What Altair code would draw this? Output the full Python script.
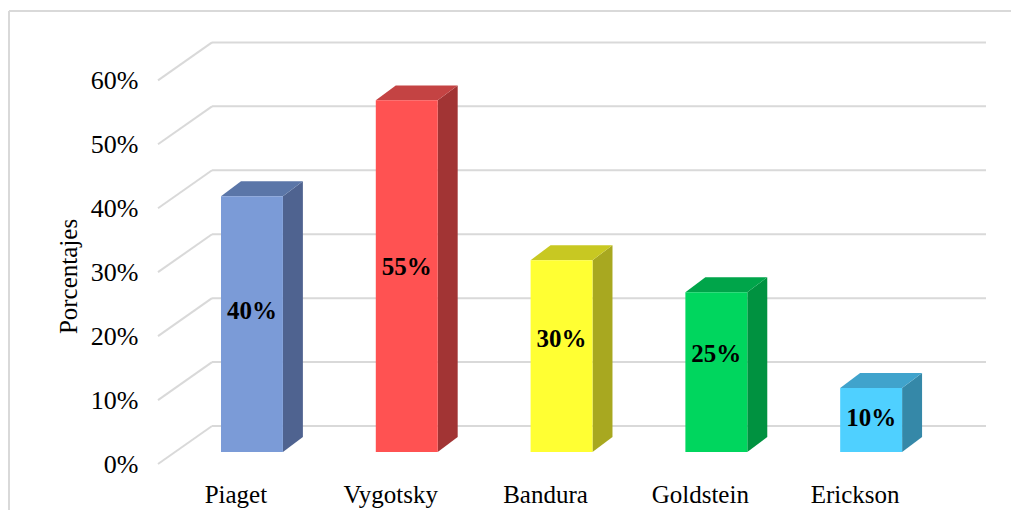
import json
import altair as alt
import pandas as pd

# ---- data ----
names = ["Piaget", "Vygotsky", "Bandura", "Goldstein", "Erickson"]
values = [40, 55, 30, 25, 10]
front_colors = ["#7B9BD7", "#FF5252", "#FFFF33", "#00D65E", "#4FD0FF"]
top_colors = ["#5B76A8", "#C44343", "#C8C822", "#00A54A", "#40A3CC"]
side_colors = ["#4F6390", "#A23434", "#A8A820", "#009240", "#3588A8"]
ticks = [0, 10, 20, 30, 40, 50, 60]

# ---- 3D geometry (style, in axis units) ----
BAR_OFF, BAR_W = 0.407, 0.400      # front face left offset / width within a category
DEPTH_X, DEPTH_Y = 0.129, 2.34     # bar depth projection
BASE = 1.875                       # bar floor height (perspective)
WALL_X, WALL_Y = 0.349, 5.94       # back wall projection
X_MAX, Y_MAX = 5.349, 66
W, H = 828, 422
FONT = "Liberation Serif"

xs = alt.Scale(domain=[0, X_MAX], nice=False, zero=False)
ys = alt.Scale(domain=[0, Y_MAX], nice=False, zero=False)

# gridlines (slanted floor-to-wall part + horizontal wall part)
grid_rows = []
for t in ticks:
    grid_rows.append({"x": 0, "x2": WALL_X, "y": t, "y2": t + WALL_Y})
    grid_rows.append({"x": WALL_X, "x2": X_MAX, "y": t + WALL_Y, "y2": t + WALL_Y})
grid_df = pd.DataFrame(grid_rows)

front_rows, top_rows, side_rows, label_rows = [], [], [], []
for i, (n, v) in enumerate(zip(names, values)):
    xl = i + BAR_OFF
    xr = xl + BAR_W
    front_rows.append({"name": n, "x": xl, "x2": xr, "y": BASE, "y2": v + BASE, "c": front_colors[i]})
    top_rows.append({"name": n, "y": v + BASE, "x": xl, "x2": xr, "c": top_colors[i]})
    top_rows.append({"name": n, "y": v + BASE + DEPTH_Y, "x": xl + DEPTH_X, "x2": xr + DEPTH_X, "c": top_colors[i]})
    side_rows.append({"name": n, "x": xr, "y": BASE, "y2": v + BASE, "c": side_colors[i]})
    side_rows.append({"name": n, "x": xr + DEPTH_X, "y": BASE + DEPTH_Y, "y2": v + BASE + DEPTH_Y, "c": side_colors[i]})
    label_rows.append({"name": n, "x": xl + BAR_W / 2,
                       "y": min(0.45 * v + 6.0, v + BASE - 4.7), "t": f"{v}%"})

front_df = pd.DataFrame(front_rows)
top_df = pd.DataFrame(top_rows)
side_df = pd.DataFrame(side_rows)
label_df = pd.DataFrame(label_rows)

label_expr = json.dumps(names) + "[floor(datum.value)]"

x_axis = alt.Axis(
    values=[i + 0.5 for i in range(len(names))], labelExpr=label_expr,
    domain=False, ticks=False, grid=False, title=None, labelAngle=0,
    labelFont=FONT, labelFontSize=25, labelColor="#000000",
    labelPadding=38, labelBaseline="alphabetic", labelFlush=False)
y_axis = alt.Axis(
    values=ticks, labelExpr="datum.value + '%'",
    domain=False, ticks=False, grid=False,
    labelFont=FONT, labelFontSize=26, labelColor="#000000",
    labelPadding=20, labelBaseline="middle", labelFlush=False,
    title="Porcentajes", titleFont=FONT, titleFontSize=25,
    titleFontWeight="normal", titleColor="#000000",
    titleAngle=270, titleAlign="center", titleBaseline="middle",
    titleX=-90, titleY=234)

grid = alt.Chart(grid_df).mark_rule(color="#D9D9D9", strokeWidth=2).encode(
    x=alt.X("x:Q", scale=xs, axis=x_axis),
    x2="x2:Q",
    y=alt.Y("y:Q", scale=ys, axis=y_axis),
    y2="y2:Q",
)

side = alt.Chart(side_df).mark_area(orient="vertical").encode(
    x=alt.X("x:Q", scale=xs, axis=x_axis),
    y=alt.Y("y:Q", scale=ys, axis=y_axis),
    y2="y2:Q",
    color=alt.Color("c:N", scale=None),
    detail="name:N",
)

top = alt.Chart(top_df).mark_area(orient="horizontal").encode(
    y=alt.Y("y:Q", scale=ys, axis=y_axis),
    x=alt.X("x:Q", scale=xs, axis=x_axis),
    x2="x2:Q",
    color=alt.Color("c:N", scale=None),
    detail="name:N",
)

front = alt.Chart(front_df).mark_rect().encode(
    x=alt.X("x:Q", scale=xs, axis=x_axis),
    x2="x2:Q",
    y=alt.Y("y:Q", scale=ys, axis=y_axis),
    y2="y2:Q",
    color=alt.Color("c:N", scale=None),
)

labels = alt.Chart(label_df).mark_text(
    font=FONT, fontSize=25, fontWeight="bold", color="#000000",
    align="center", baseline="middle",
).encode(
    x=alt.X("x:Q", scale=xs, axis=x_axis),
    y=alt.Y("y:Q", scale=ys, axis=y_axis),
    text="t:N",
)

dummy = pd.DataFrame({"a": [0]})
border_top = alt.Chart(dummy).mark_rule(color="#D9D9D9", strokeWidth=2).encode(
    x=alt.value(-149), x2=alt.value(853), y=alt.value(-31))
border_left = alt.Chart(dummy).mark_rule(color="#D9D9D9", strokeWidth=2).encode(
    x=alt.value(-149), y=alt.value(-31), y2=alt.value(470))

chart = alt.layer(grid, border_top, border_left, side, top, front, labels).properties(
    width=W, height=H,
    autosize=alt.AutoSizeParams(type="none"),
    padding={"left": 150, "top": 34, "right": 25, "bottom": 46},
    background="#FFFFFF",
).configure_view(stroke=None)

chart.save("out.html", embed_options={"renderer": "svg", "actions": False})
